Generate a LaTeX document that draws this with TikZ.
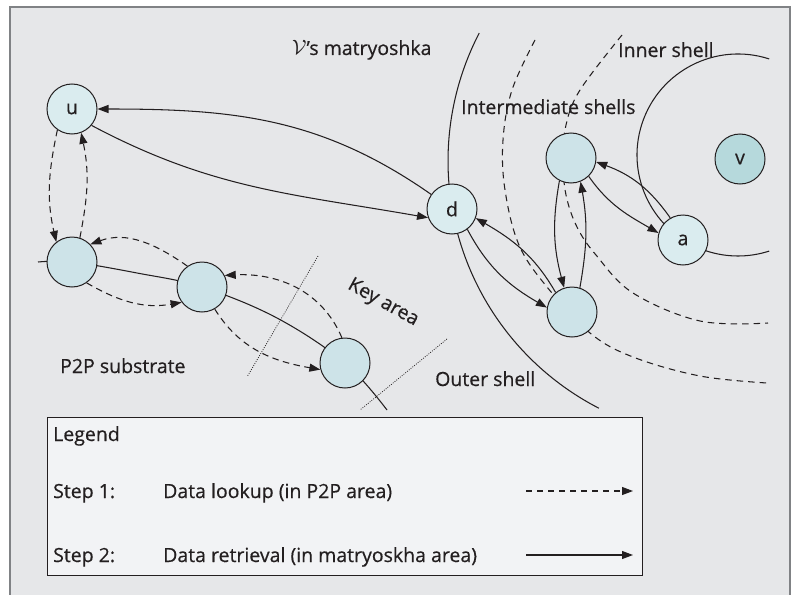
\documentclass[tikz,border=0pt]{standalone}
\usepackage{fontspec}
\setmainfont[FakeBold=0.5]{Open Sans}
\usetikzlibrary{arrows.meta}
\definecolor{panel}{HTML}{E6E7E9}
\definecolor{legfill}{HTML}{F2F3F5}
\definecolor{framegray}{HTML}{808285}
\definecolor{nodelight}{HTML}{DAECEF}
\definecolor{nodefill}{HTML}{CDE3E8}
\definecolor{nodedark}{HTML}{B6D9DC}
\definecolor{ink}{HTML}{231F20}
\begin{document}
\begin{tikzpicture}[x=1pt,y=1pt,
  lbl/.style={font=\fontsize{19.5}{23}\selectfont, text=ink, inner sep=0pt},
  nd/.style={circle, draw=ink, line width=1pt, minimum size=50pt, inner sep=0pt, fill=nodefill, font=\fontsize{19.5}{23}\selectfont, text=ink},
  ndl/.style={nd, fill=nodelight},
  ndv/.style={nd, fill=nodedark},
  shell/.style={draw=ink, line width=1.05pt},
  dshell/.style={draw=ink, line width=1.05pt, dash pattern=on 6.5pt off 5pt},
  dotl/.style={draw=ink, line width=0.75pt, dash pattern=on 0.9pt off 1.4pt},
  sarr/.style={draw=ink, line width=1.05pt, -{Triangle[length=11pt,width=8pt]}},
  darr/.style={draw=ink, line width=1.05pt, dash pattern=on 6.5pt off 4.5pt, -{Triangle[length=11pt,width=8pt]}},
]
\useasboundingbox (0,0) rectangle (797,-594);
\clip (0,0) rectangle (797,-594);
% panel
\fill[panel] (10,-7) rectangle (790,-600);
\draw[framegray, line width=1.6pt] (10,-600) -- (10,-7) -- (790,-7) -- (790,-600);

% shells
\draw[shell] (726,-161) ++(152.6:278pt) arc[start angle=152.6, end angle=242.8, radius=278pt];
\draw[shell] (738,-155) ++(72:101pt) arc[start angle=72, end angle=288, radius=101pt];
\draw[dshell] plot[smooth, tension=0.6] coordinates {(535,-40) (512,-90) (503,-140) (505,-190) (519,-245) (547,-287) (590,-333) (633,-357) (700,-376) (767,-383)};
\draw[dshell] plot[smooth, tension=0.6] coordinates {(622,-35) (580,-90) (566,-125) (563,-160) (566,-195) (577,-227) (596,-255) (633,-293) (700,-321) (768,-323)};

% key area dotted lines
\coordinate (k1a) at (318,-256); \coordinate (k1b) at (247,-377);
\coordinate (k2a) at (447,-339); \coordinate (k2b) at (360,-410);
\draw[dotl] (k1a) -- (k1b);
\draw[dotl] (k2a) -- (k2b);

% P2P ring line
\draw[shell] plot[smooth, tension=0.6] coordinates {(38,-262) (72,-262) (137,-273) (202,-287) (277,-318) (345,-363) (387,-410)};

% nodes
\node[ndl] (u) at (72,-109) {u};
\node[nd] (n1) at (72,-262) {};
\node[nd] (n2) at (202,-287) {};
\node[nd] (n3) at (345,-363) {};
\node[ndl] (d) at (452,-209) {d};
\node[nd] (s1) at (571,-158) {};
\node[nd] (s2) at (572,-312) {};
\node[ndl] (a) at (683,-240) {a};
\node[ndv] (v) at (740,-159) {v};

% solid connectors (step 2)
\draw[sarr] (d.145) to[out=145, in=0] (u.0);
\draw[sarr] (u.-40) to[out=-28, in=170] (d.200);
\draw[sarr] (d.-53) to[out=-62, in=150] (s2.170);
\draw[sarr] (s2.130) to[out=120, in=-30] (d.-21);
\draw[sarr] (s1.-117) to[out=-100, in=105] (s2.108);
\draw[sarr] (s2.72) to[out=80, in=-80] (s1.-68);
\draw[sarr] (s1.-46) to[out=-55, in=150] (a.164);
\draw[sarr] (a.120) to[out=125, in=-20] (s1.-9);

% dashed connectors (step 1)
\draw[darr] (u.-125) to[out=-102, in=103] (n1.128);
\draw[darr] (n1.72) to[out=79, in=-78] (u.-69);
\draw[darr] (n2.125) to[out=145, in=20] (n1.44);
\draw[darr] (n1.-55) to[out=-30, in=190] (n2.-143);
\draw[darr] (n3.97) to[out=113, in=3] (n2.27);
\draw[darr] (n2.-60) to[out=-58, in=170] (n3.-165);

% labels
\node[lbl, anchor=base west] (tm) at (292,-55) {$\mathcal{V}$’s matryoshka};
\node[lbl, anchor=base west] (ti) at (618,-57) {Inner shell};
\node[lbl, anchor=base west] (tint) at (461,-114) {Intermediate shells};
\node[lbl, anchor=base west] (to) at (435,-386) {Outer shell};
\node[lbl, anchor=base west] (tp) at (60,-373) {P2P substrate};
\node[lbl, rotate=-29] (tk) at (383,-303) {Key area};

% legend
\node[draw=ink, line width=0.8pt, fill=legfill, minimum width=595pt, minimum height=158pt, inner sep=0pt, anchor=north west] (leg) at (47,-417) {};
\node[lbl, anchor=base west] (lg) at (53,-441) {Legend};
\node[lbl, anchor=base west] (st1) at (53,-498) {Step 1:};
\node[lbl, anchor=base west] (st1t) at (163,-498) {Data lookup (in P2P area)};
\node[lbl, anchor=base west] (st2) at (53,-562) {Step 2:};
\node[lbl, anchor=base west] (st2t) at (163,-562) {Data retrieval (in matryoskha area)};
\coordinate (l1a) at (526,-491); \coordinate (l1b) at (633,-491);
\coordinate (l2a) at (526,-555); \coordinate (l2b) at (633,-555);
\draw[darr, dash pattern=on 6pt off 5pt] (l1a) -- (l1b);
\draw[sarr] (l2a) -- (l2b);
\end{tikzpicture}
\end{document}
